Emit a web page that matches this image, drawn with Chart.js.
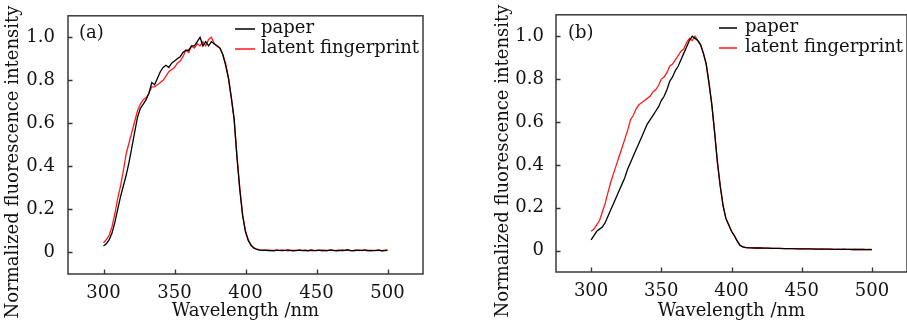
<!DOCTYPE html>
<html>
<head>
<meta charset="utf-8">
<script src="https://cdn.jsdelivr.net/npm/chart.js@4/dist/chart.umd.min.js"></script>
<style>
  html, body { margin: 0; padding: 0; background: #fff; }
  body { width: 907px; height: 325px; position: relative; overflow: hidden; }
  .wrap { position: absolute; top: 0; height: 325px; }
  canvas { display: block; }
</style>
</head>
<body>
<div class="wrap" style="left:0px;width:430px;"><canvas id="chartA" width="430" height="325"></canvas></div>
<div class="wrap" style="left:490px;width:417px;"><canvas id="chartB" width="417" height="325"></canvas></div>
<script>
// ---------- DATA ----------
const wavelengths = [
  300,302,304,306,308,310,312,314,316,318,320,322,324,326,328,330,332,334,336,338,
  340,342,344,346,348,350,352,354,356,358,360,362,364,366,368,370,372,374,376,378,
  380,382,384,386,388,390,392,394,396,398,400,402,404,406,408,410,412,414,416,418,
  420,422,424,426,428,430,432,434,436,438,440,442,444,446,448,450,452,454,456,458,
  460,462,464,466,468,470,472,474,476,478,480,482,484,486,488,490,492,494,496,498,500
];

const seriesLabels = ["paper", "latent fingerprint"];

// Panel (a)
const paperA = [
  0.030,0.040,0.060,0.090,0.140,0.200,0.260,0.310,0.360,0.420,0.490,0.560,0.630,0.670,0.690,0.710,0.740,0.790,0.780,0.810,
  0.840,0.860,0.870,0.860,0.880,0.890,0.900,0.910,0.930,0.940,0.940,0.960,0.960,0.980,1.000,0.960,0.980,0.960,0.980,0.970,
  0.960,0.950,0.920,0.870,0.810,0.720,0.620,0.440,0.290,0.170,0.095,0.055,0.032,0.020,0.014,0.011,0.010,0.011,0.009,0.010,
  0.008,0.011,0.010,0.009,0.010,0.012,0.009,0.008,0.010,0.011,0.009,0.010,0.008,0.012,0.010,0.009,0.011,0.008,0.010,0.009,
  0.012,0.010,0.008,0.009,0.011,0.010,0.013,0.009,0.008,0.010,0.011,0.009,0.012,0.010,0.008,0.009,0.010,0.011,0.008,0.009,0.010
];
const fingerA = [
  0.045,0.060,0.080,0.120,0.180,0.250,0.310,0.380,0.460,0.510,0.560,0.610,0.660,0.690,0.710,0.720,0.740,0.770,0.770,0.780,
  0.790,0.800,0.820,0.840,0.850,0.860,0.880,0.890,0.910,0.940,0.930,0.960,0.950,0.970,0.960,0.980,0.960,0.990,1.000,0.970,
  0.960,0.950,0.920,0.880,0.810,0.720,0.620,0.450,0.300,0.175,0.100,0.058,0.034,0.021,0.015,0.012,0.011,0.010,0.012,0.009,
  0.010,0.011,0.009,0.012,0.010,0.008,0.011,0.010,0.009,0.012,0.010,0.011,0.009,0.010,0.008,0.011,0.010,0.012,0.009,0.010,
  0.011,0.009,0.010,0.012,0.008,0.010,0.011,0.009,0.010,0.012,0.009,0.011,0.010,0.008,0.011,0.010,0.009,0.012,0.008,0.011,0.012
];

// Panel (b)
const paperB = [
  0.050,0.070,0.090,0.100,0.110,0.130,0.160,0.190,0.220,0.250,0.280,0.310,0.340,0.380,0.410,0.440,0.470,0.500,0.530,0.560,
  0.590,0.610,0.630,0.650,0.670,0.700,0.720,0.750,0.790,0.810,0.840,0.860,0.890,0.920,0.950,0.980,1.000,0.990,0.980,0.960,
  0.920,0.870,0.780,0.680,0.550,0.410,0.300,0.210,0.150,0.120,0.090,0.070,0.045,0.025,0.017,0.014,0.013,0.013,0.012,0.012,
  0.012,0.011,0.011,0.011,0.010,0.010,0.010,0.010,0.009,0.009,0.009,0.009,0.009,0.008,0.008,0.008,0.008,0.008,0.008,0.007,
  0.007,0.007,0.007,0.007,0.007,0.007,0.006,0.006,0.006,0.006,0.007,0.006,0.006,0.005,0.006,0.005,0.005,0.005,0.004,0.005,0.004
];
const fingerB = [
  0.090,0.100,0.120,0.140,0.180,0.220,0.270,0.320,0.360,0.400,0.440,0.480,0.520,0.560,0.610,0.630,0.660,0.680,0.690,0.700,
  0.710,0.720,0.740,0.750,0.770,0.800,0.810,0.830,0.860,0.870,0.890,0.910,0.930,0.940,0.970,0.990,0.980,1.000,0.980,0.960,
  0.920,0.870,0.780,0.680,0.550,0.410,0.300,0.210,0.150,0.120,0.090,0.070,0.045,0.026,0.018,0.015,0.014,0.013,0.013,0.012,
  0.012,0.012,0.011,0.011,0.011,0.010,0.010,0.010,0.010,0.009,0.009,0.009,0.009,0.009,0.008,0.009,0.008,0.008,0.008,0.008,
  0.008,0.007,0.008,0.007,0.007,0.007,0.007,0.006,0.007,0.006,0.006,0.006,0.006,0.005,0.006,0.005,0.005,0.005,0.005,0.004,0.005
];

const xTickValues = [300, 350, 400, 450, 500];
const yTickValues = [0, 0.2, 0.4, 0.6, 0.8, 1.0];
const yTickLabels = ["0", "0.2", "0.4", "0.6", "0.8", "1.0"];
const panelLabels = ["(a)", "(b)"];
const xTitle = "Wavelength /nm";
const yTitle = "Normalized fluorescence intensity";

// ---------- DRAWING ----------
const FONT = "'DejaVu Serif', 'Liberation Serif', serif";
const seriesColors = ["#000000", "#ff1a1a"];

function toPoints(xs, ys) { return xs.map((x, i) => ({ x: x, y: ys[i] })); }

const decorPlugin = {
  id: 'decor',
  afterDraw(chart) {
    const ctx = chart.ctx;
    const a = chart.chartArea;
    const o = chart.options.plugins.decor;
    const xs = chart.scales.x, ys = chart.scales.y;
    ctx.save();
    // inward tick marks
    ctx.strokeStyle = '#333';
    ctx.lineWidth = 1.3;
    ctx.beginPath();
    xTickValues.forEach(v => {
      const px = Math.round(xs.getPixelForValue(v)) + 0.5;
      ctx.moveTo(px, a.bottom); ctx.lineTo(px, a.bottom - 4.5);
    });
    yTickValues.forEach(v => {
      const py = Math.round(ys.getPixelForValue(v)) + 0.5;
      ctx.moveTo(a.left, py); ctx.lineTo(a.left + 4.5, py);
    });
    ctx.stroke();
    // frame
    ctx.strokeStyle = '#3a3a3a';
    ctx.lineWidth = 1.5;
    ctx.strokeRect(a.left, a.top, a.right - a.left, a.bottom - a.top);
    // y title
    ctx.fillStyle = '#111';
    ctx.font = "18px " + FONT;
    ctx.textAlign = 'center';
    ctx.textBaseline = 'middle';
    ctx.translate(o.yTitleX, o.yTitleY);
    ctx.rotate(-Math.PI / 2);
    ctx.fillText(ys.options.title.text, 0, 0);
    ctx.setTransform(1, 0, 0, 1, 0, 0);
    // panel label
    ctx.font = "18px " + FONT;
    ctx.textAlign = 'left';
    ctx.fillText(o.panel, a.left + o.panelDx, 33);
    // legend
    ctx.font = "18px " + FONT;
    chart.data.datasets.forEach((ds, i) => {
      const y = o.legendY[i];
      ctx.strokeStyle = ds.borderColor;
      ctx.lineWidth = 1.5;
      ctx.beginPath();
      ctx.moveTo(a.left + o.lineStart, y + 1);
      ctx.lineTo(a.left + o.lineStart + o.lineLen, y + 1);
      ctx.stroke();
      ctx.fillStyle = '#111';
      ctx.fillText(ds.label, a.left + o.textStart, y);
    });
    ctx.restore();
  }
};

function makeChart(id, paper, finger, cfg) {
  return new Chart(document.getElementById(id), {
    type: 'line',
    data: {
      datasets: [
        { label: seriesLabels[0], data: toPoints(wavelengths, paper), borderColor: seriesColors[0], borderWidth: 1.3, pointRadius: 0, tension: 0, fill: false },
        { label: seriesLabels[1], data: toPoints(wavelengths, finger), borderColor: seriesColors[1], borderWidth: 1.3, pointRadius: 0, tension: 0, fill: false }
      ]
    },
    options: {
      responsive: false,
      animation: false,
      devicePixelRatio: 1,
      layout: { padding: { top: 13, right: cfg.padRight, bottom: 0, left: 0 } },
      plugins: {
        legend: { display: false },
        tooltip: { enabled: false },
        decor: cfg.decor
      },
      scales: {
        x: {
          type: 'linear', min: 275, max: 525,
          grid: { display: false }, border: { display: false },
          afterBuildTicks: s => { s.ticks = xTickValues.map(v => ({ value: v })); },
          afterFit: s => { s.height = cfg.xHeight; },
          ticks: { color: '#111', padding: 1, maxRotation: 0, autoSkip: false, font: { family: FONT, size: 18 } },
          title: { display: true, text: xTitle, color: '#111', font: { family: FONT, size: 18 }, padding: { top: 0, bottom: 3 } }
        },
        y: {
          type: 'linear', min: -0.1, max: 1.1,
          grid: { display: false }, border: { display: false },
          afterBuildTicks: s => { s.ticks = yTickValues.map(v => ({ value: v })); },
          afterFit: s => { s.width = cfg.yWidth; },
          ticks: { color: '#111', padding: cfg.yTickPad, autoSkip: false, font: { family: FONT, size: 18 },
                   callback: (v) => { const i = yTickValues.findIndex(t => Math.abs(t - v) < 1e-9); return i >= 0 ? yTickLabels[i] : ''; } },
          title: { display: false, text: yTitle }
        }
      }
    },
    plugins: [decorPlugin]
  });
}

makeChart('chartA', paperA, fingerA, {
  padRight: 7, xHeight: 51, yWidth: 68, yTickPad: 5,
  decor: { panel: panelLabels[0], panelDx: 11, yTitleX: 13, yTitleY: 162,
           legendY: [28, 48], lineStart: 167, lineLen: 20, textStart: 193 }
});
makeChart('chartB', paperB, fingerB, {
  padRight: 0, xHeight: 53, yWidth: 66, yTickPad: 4,
  decor: { panel: panelLabels[1], panelDx: 12, yTitleX: 13, yTitleY: 161,
           legendY: [27, 47], lineStart: 163, lineLen: 18, textStart: 189 }
});
</script>
</body>
</html>
